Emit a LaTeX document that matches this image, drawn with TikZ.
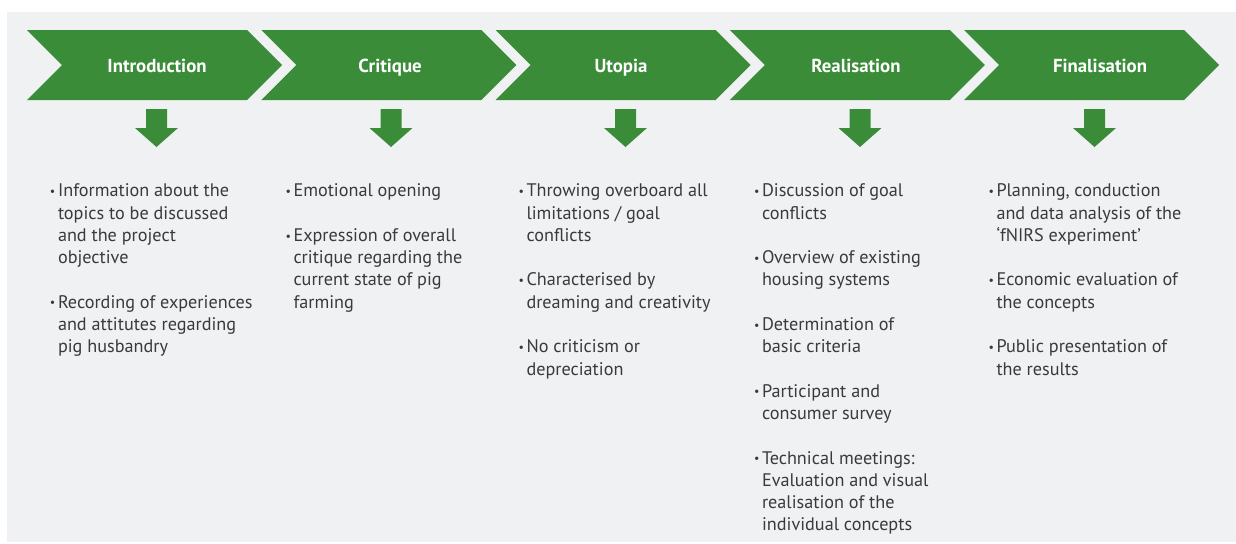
\documentclass[tikz,border=0pt]{standalone}
\usepackage{fontspec}
\setmainfont{PT Sans}

\definecolor{stagegreen}{RGB}{58,140,56}
\definecolor{panelgrey}{RGB}{240,241,243}
\definecolor{bodygrey}{RGB}{58,58,58}

\newcommand{\bul}{\makebox[6pt][l]{\raisebox{0.15ex}{\fontsize{9}{9}\selectfont •}}}
\newcommand{\ind}{\hspace*{6pt}}

\tikzset{every picture/.style={line width=0.75pt}}
\tikzset{
  stage/.style={fill=stagegreen, draw=none},
  stagelabel/.style={anchor=base, inner sep=0pt, text=white, font=\fontsize{14.1}{16}\selectfont\bfseries},
  bullets/.style={anchor=north west, inner sep=0pt, align=left, text=bodygrey, font=\fontsize{13.65}{16.7}\selectfont},
}

\begin{document}
\begin{tikzpicture}[x=0.75pt,y=0.75pt,yscale=-1,xscale=1]
\useasboundingbox (0,0) rectangle (1236,543);

%Panel
\fill [panelgrey] (7,12) rectangle (1236,542);

%Chevrons
\fill [stage] (27,30) -- (247,30) -- (282,65) -- (247,100) -- (27,100) -- (62,65) -- cycle ;
\fill [stage] (261.25,30) -- (481.25,30) -- (516.25,65) -- (481.25,100) -- (261.25,100) -- (296.25,65) -- cycle ;
\fill [stage] (495.5,30) -- (715.5,30) -- (750.5,65) -- (715.5,100) -- (495.5,100) -- (530.5,65) -- cycle ;
\fill [stage] (729.75,30) -- (949.75,30) -- (984.75,65) -- (949.75,100) -- (729.75,100) -- (764.75,65) -- cycle ;
\fill [stage] (964,30) -- (1184,30) -- (1219,65) -- (1184,100) -- (964,100) -- (999,65) -- cycle ;

%Down arrows
\fill [stage] (146,109) -- (167,109) -- (167,128) -- (178,128) -- (156.5,147) -- (135,128) -- (146,128) -- cycle ;
\fill [stage] (380.5,109) -- (401.5,109) -- (401.5,128) -- (412.5,128) -- (391,147) -- (369.5,128) -- (380.5,128) -- cycle ;
\fill [stage] (615,109) -- (636,109) -- (636,128) -- (647,128) -- (625.5,147) -- (604,128) -- (615,128) -- cycle ;
\fill [stage] (849.5,109) -- (870.5,109) -- (870.5,128) -- (881.5,128) -- (860,147) -- (838.5,128) -- (849.5,128) -- cycle ;
\fill [stage] (1084,109) -- (1105,109) -- (1105,128) -- (1116,128) -- (1094.5,147) -- (1073,128) -- (1084,128) -- cycle ;

%Stage titles
\draw (157,72.5) node [stagelabel] (intro) {Introduction};
\draw (390,72.5) node [stagelabel] (critique) {Critique};
\draw (621,72.5) node [stagelabel] (utopia) {Utopia};
\draw (856,72.5) node [stagelabel] (realis) {Realisation};
\draw (1100,72.5) node [stagelabel] (final) {Finalisation};

%Bullet lists
\draw (49.5,183.5) node [bullets] (introlist) {\bul Information about the\\ \ind topics to be discussed\\ \ind and the project\\ \ind objective\\[16.7pt]
\bul Recording of experiences\\ \ind and attitutes regarding\\ \ind pig husbandry};
\draw (285,183.5) node [bullets] (critiquelist) {\bul Emotional opening\\[16.7pt]
\bul Expression of overall\\ \ind critique regarding the\\ \ind current state of pig\\ \ind farming};
\draw (518,183.5) node [bullets] (utopialist) {\bul Throwing overboard all\\ \ind limitations / goal\\ \ind conflicts\\[16.7pt]
\bul Characterised by\\ \ind dreaming and creativity\\[16.7pt]
\bul No criticism or\\ \ind depreciation};
\draw (753.5,183.5) node [bullets] (realislist) {\bul Discussion of goal\\ \ind conflicts\\[16.7pt]
\bul Overview of existing\\ \ind housing systems\\[16.7pt]
\bul Determination of\\ \ind basic criteria\\[16.7pt]
\bul Participant and\\ \ind consumer survey\\[16.7pt]
\bul Technical meetings:\\ \ind Evaluation and visual\\ \ind realisation of the\\ \ind individual concepts};
\draw (988,183.5) node [bullets] (finallist) {\bul Planning, conduction\\ \ind and data analysis of the\\ \ind ‘fNIRS experiment’\\[16.7pt]
\bul Economic evaluation of\\ \ind the concepts\\[16.7pt]
\bul Public presentation of\\ \ind the results};

\end{tikzpicture}
\end{document}
